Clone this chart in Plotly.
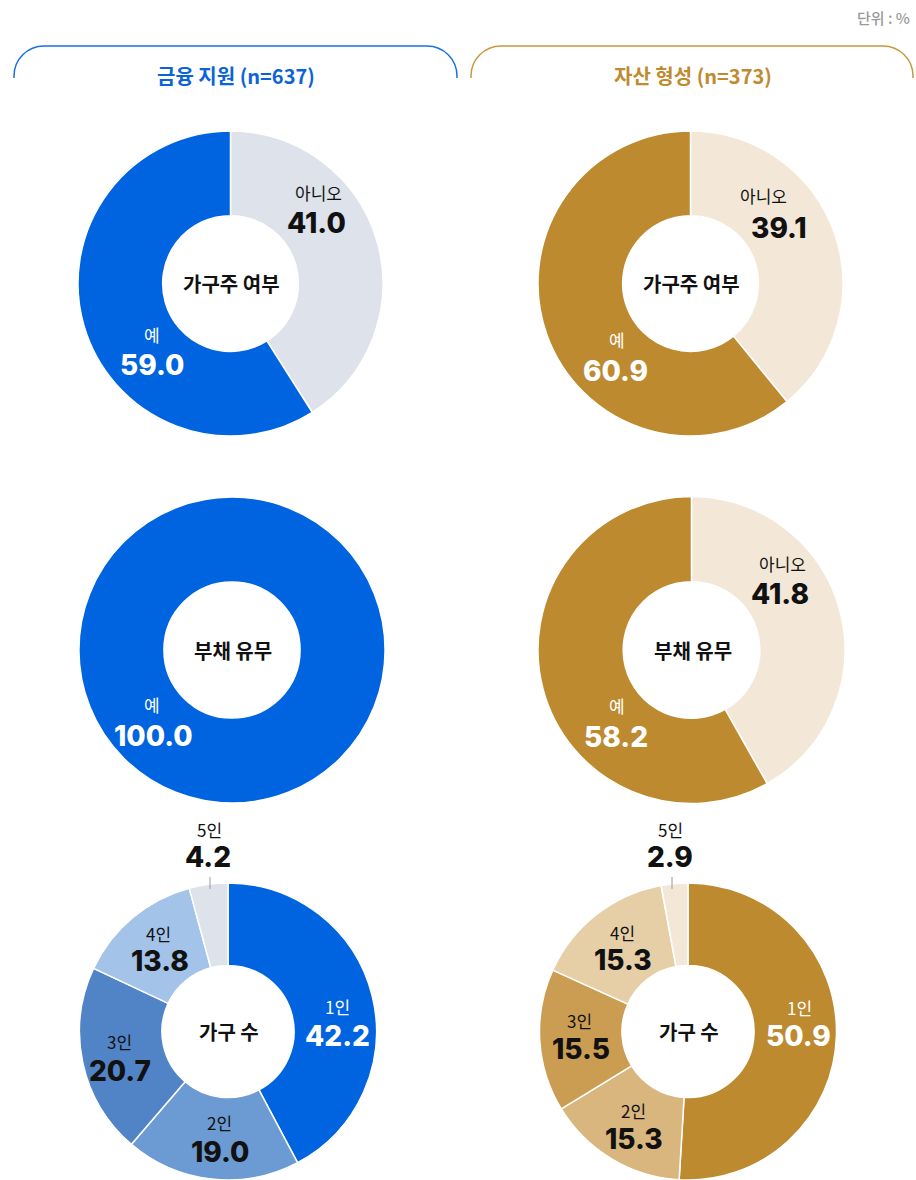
import plotly.graph_objects as go

W, H = 916, 1180

# ---------------- data ----------------
groups = ["금융 지원", "자산 형성"]
group_n = [637, 373]

hh_title = "가구주 여부"
hh_labels = ["아니오", "예"]
fin_hh = [41.0, 59.0]
asset_hh = [39.1, 60.9]

debt_title = "부채 유무"
debt_labels = ["아니오", "예"]
fin_debt = [0.0, 100.0]
asset_debt = [41.8, 58.2]

size_title = "가구 수"
size_labels = ["1인", "2인", "3인", "4인", "5인"]
fin_size = [42.2, 19.0, 20.7, 13.8, 4.2]
asset_size = [50.9, 15.3, 15.5, 15.3, 2.9]

unit_text = "단위 : %"

# ---------------- styles ----------------
BLUE = "#0064E0"
GOLD = "#BD8A30"
fin_two = ["#DDE2EB", BLUE]
asset_two = ["#F3E8D8", GOLD]
fin_five = [BLUE, "#6B9BD2", "#5184C6", "#A3C3E8", "#DDE2EB"]
asset_five = [GOLD, "#D8B67E", "#CB9D52", "#E6CFA7", "#F3E8D8"]

KR = "Noto Sans CJK KR"
NUM = "Inter"


def px(x):
    return x / W


def py(y):
    return 1 - y / H


def dom(cx, cy, r):
    y0 = max(0.0, py(cy + r))
    y1 = min(1.0, py(cy - r))
    return dict(x=[px(cx - r), px(cx + r)], y=[y0, y1])


fig = go.Figure()

# (values, labels, colors, centre, radius, title, label positions, number colors)
charts = [
    (fin_hh, hh_labels, fin_two, (230.5, 283.5), 152.5, hh_title,
     [((318, 195), (316, 222)), ((152, 337), (152, 365))], ["#111", "white"]),
    (asset_hh, hh_labels, asset_two, (690.5, 283.5), 152.5, hh_title,
     [((763, 198), (779, 227)), ((617, 342), (615, 370))], ["#111", "white"]),
    (fin_debt, debt_labels, fin_two, (232, 650), 153, debt_title,
     [((318, 566), (316, 593)), ((152, 707), (153, 735))], ["#111", "white"]),
    (asset_debt, debt_labels, asset_two, (691.5, 650), 153.5, debt_title,
     [((782, 566), (780, 593)), ((617, 708), (616, 736))], ["#111", "white"]),
    (fin_size, size_labels, fin_five, (228, 1031.5), 148.5, size_title,
     [((337, 1009), (337, 1035)), ((219, 1125), (220, 1151)),
      ((119, 1044), (120, 1070)), ((158, 936), (160, 960)),
      ((209, 832), (208, 856))], ["white", "#111", "#111", "#111", "#111"]),
    (asset_size, size_labels, asset_five, (688, 1031.5), 148.5, size_title,
     [((799, 1010), (798, 1035)), ((633, 1113), (634, 1138)),
      ((579, 1023), (581, 1048)), ((622, 935), (623, 959)),
      ((670, 832), (670, 857))], ["white", "#111", "#111", "#111", "#111"]),
]

annotations = []
shapes = []

for vals, labs, cols, (cx, cy), r, title, lpos, ncols in charts:
    fig.add_trace(go.Pie(
        values=vals, labels=labs, sort=False, direction="clockwise",
        rotation=0, hole=0.445, domain=dom(cx, cy, r),
        marker=dict(colors=cols, line=dict(color="white", width=1.5)),
        textinfo="none", hoverinfo="label+value", showlegend=False,
    ))
    annotations.append(dict(
        x=px(cx + 1), y=py(cy), xref="paper", yref="paper",
        text=f"<b>{title}</b>", showarrow=False,
        font=dict(family=KR, size=20, color="#111"),
        xanchor="center", yanchor="middle"))
    for v, lab, ((lx, ly), (nx, ny)), nc in zip(vals, labs, lpos, ncols):
        if v <= 0:
            continue
        annotations.append(dict(
            x=px(lx), y=py(ly - 2.5), xref="paper", yref="paper", text=lab,
            showarrow=False, font=dict(family=KR, size=17, color=nc),
            xanchor="center", yanchor="middle", borderpad=0))
        annotations.append(dict(
            x=px(nx), y=py(ny + 0.5), xref="paper", yref="paper",
            text=f"{v:.1f}", showarrow=False,
            font=dict(family=NUM, size=28, color=nc, weight=800),
            xanchor="center", yanchor="middle", borderpad=0))

# leader lines for the small 5인 slices
for lx in (210, 672):
    shapes.append(dict(type="line", xref="paper", yref="paper",
                       x0=px(lx), x1=px(lx), y0=py(877), y1=py(889),
                       line=dict(color="#9a9a9a", width=1)))

# header brackets
k = 0.5523


def bracket(x0, x1, top, bottom, rr):
    pts = [
        ("M", [(x0, bottom)]),
        ("L", [(x0, top + rr)]),
        ("C", [(x0, top + rr - k * rr), (x0 + rr - k * rr, top), (x0 + rr, top)]),
        ("L", [(x1 - rr, top)]),
        ("C", [(x1 - rr + k * rr, top), (x1, top + rr - k * rr), (x1, top + rr)]),
        ("L", [(x1, bottom)]),
    ]
    s = ""
    for cmd, ps in pts:
        s += cmd + " " + " ".join(f"{px(a):.5f},{py(b):.5f}" for a, b in ps) + " "
    return s.strip()


head_cols = ["#1A6FE3", "#C9973F"]
title_cols = ["#0A64D8", "#C08A2E"]
for (x0, x1), g, n, lc, tc in zip([(14, 457), (471, 913)], groups, group_n,
                                 head_cols, title_cols):
    shapes.append(dict(type="path", xref="paper", yref="paper",
                       path=bracket(x0, x1, 46, 78, 30),
                       line=dict(color=lc, width=1.5)))
    annotations.append(dict(
        x=px((x0 + x1) / 2 + 1), y=py(75), xref="paper", yref="paper",
        text=f"<b>{g} (n={n})</b>", showarrow=False,
        font=dict(family=KR, size=20, color=tc),
        xanchor="center", yanchor="middle"))

annotations.append(dict(
    x=px(912), y=py(17), xref="paper", yref="paper", text=unit_text,
    showarrow=False, font=dict(family=KR, size=15, color="#9a9a9a", weight=500),
    xanchor="right", yanchor="middle"))

fig.update_layout(
    width=W, height=H, margin=dict(l=0, r=0, t=0, b=0),
    paper_bgcolor="white", plot_bgcolor="white",
    annotations=annotations, shapes=shapes,
)

fig.write_html(
    "out.html",
    config={"displayModeBar": False},
    post_script="document.body.style.margin='0';"
                "document.body.style.overflow='hidden';",
)
